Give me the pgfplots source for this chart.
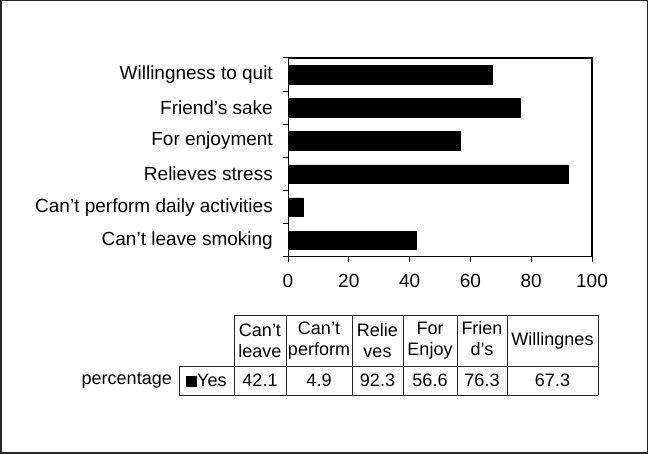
\documentclass[border=0pt]{standalone}
\usepackage{pgfplots}
\pgfplotsset{compat=1.18}
\usepackage{fontspec}
\setmainfont{Liberation Sans}

\begin{document}
\fontsize{18}{21}\selectfont
\begin{tikzpicture}[x=1pt,y=1pt]
  \useasboundingbox (0,0) rectangle (648,454);
  \draw[line width=1.5pt, black!85] (0.75,0.75) rectangle (647.25,453.25);

  \begin{axis}[
      name=ax,
      at={(288pt,197pt)}, anchor=south west,
      width=304pt, height=199pt, scale only axis,
      clip=false,
      xbar, bar width=18.5pt,
      xmin=0, xmax=100, ymin=0.5, ymax=6.5,
      xtick={0,20,...,100},
      ytick={1,...,6},
      yticklabels={Can’t leave smoking, Can’t perform daily activities,
        Relieves stress, For enjoyment, Friend’s sake, Willingness to quit},
      minor ytick={0.5,1.5,...,6.5},
      major tick length=5pt, minor tick length=5pt,
      major y tick style={draw=none},
      tick align=outside,
      xtick pos=bottom, ytick pos=left,
      axis line style={line width=1pt},
      tick style={line width=1pt, black},
      tick label style={font=\fontsize{19}{21}\selectfont},
      xticklabel style={yshift=-6pt},
      yticklabel style={xshift=-4pt},
      /pgf/number format/assume math mode=true,
    ]
    \addplot[fill=black, draw=black]
      coordinates {(42.1,1) (4.9,2) (92.3,3) (56.6,4) (76.3,5) (67.3,6)};
  \end{axis}
  % top and right sides of the plot frame
  \draw[line width=1.2pt, black] (ax.north west) -- (ax.north east) -- (ax.south east);

  % data table under the chart
  \begin{scope}[line width=0.9pt, black!85]
    \draw (234,139) -- (598,139);
    \draw (179,88) -- (598,88);
    \draw (179,59) -- (598,59);
    \draw (179,88) -- (179,59);
    \foreach \x in {234,286,352,403,457,507,598}
      \draw (\x,139) -- (\x,59);
  \end{scope}

  \begin{scope}[every node/.style={align=center, inner sep=0pt,
        font=\fontsize{18}{21}\selectfont}]
    \node at (260,113.5) {Can’t\\leave};
    \node at (319,113.5) {Can’t\\perform};
    \node at (377.5,113.5) {Relie\\ves};
    \node at (430,113.5) {For\\Enjoy};
    \node at (482,115) {Frien\\d’s};
    \node at (552.5,113.5) {Willingnes};

    \node at (206.5,73.5) {\rule{0.6em}{0.6em}Yes};
    \node at (260,73.5) {42.1};
    \node at (319,73.5) {4.9};
    \node at (377.5,73.5) {92.3};
    \node at (430,73.5) {56.6};
    \node at (482,73.5) {76.3};
    \node at (552.5,73.5) {67.3};

    \node[anchor=base east] at (172,69) {percentage};
  \end{scope}
\end{tikzpicture}
\end{document}
